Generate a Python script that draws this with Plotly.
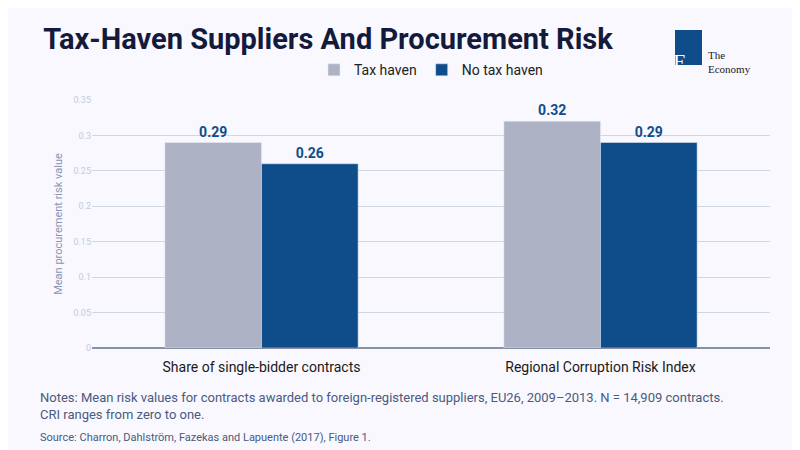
import plotly.graph_objects as go

categories = ["Share of single-bidder contracts", "Regional Corruption Risk Index"]
tax_haven = [0.29, 0.32]
no_tax_haven = [0.26, 0.29]

fig = go.Figure()
fig.add_bar(name="Tax haven", x=categories, y=tax_haven, marker_color="#adb3c5",
            text=[f"{v:.2f}" for v in tax_haven], textposition="outside",
            textfont=dict(color="#0f4c8a", size=14, family="Roboto"), cliponaxis=False)
fig.add_bar(name="No tax haven", x=categories, y=no_tax_haven, marker_color="#0f4c8a",
            text=[f"{v:.2f}" for v in no_tax_haven], textposition="outside",
            textfont=dict(color="#0f4c8a", size=14, family="Roboto"), cliponaxis=False)

bg = "#f8f8fe"
fig.update_layout(
    width=800, height=450, paper_bgcolor=bg, plot_bgcolor=bg,
    margin=dict(l=84, r=38, t=92, b=110),
    barmode="group", bargap=0.43, bargroupgap=0,
    font=dict(family="Roboto"),
    title=dict(text="<b>Tax-Haven Suppliers And Procurement Risk</b>", x=0.044, y=0.955,
               xanchor="left", yanchor="top", font=dict(size=29, color="#141a3c", family="Roboto")),
    legend=dict(orientation="h", x=0.5, xanchor="center", y=1.12, yanchor="middle",
                font=dict(size=14, color="#222"), itemwidth=30, bgcolor="rgba(0,0,0,0)"),
    yaxis=dict(range=[0, 0.35], dtick=0.05, gridcolor="#cfd6e4", tickfont=dict(size=9, color="#c5cbdb"),
               title=dict(text="Mean procurement risk value", font=dict(size=11, color="#8a93b5"), standoff=8),
               zeroline=True, zerolinecolor="#8890a8", tickformat="~g"),
    xaxis=dict(tickfont=dict(size=14, color="#1a1a1a"), showline=True, linecolor="#8890a8"),
)
fig.update_xaxes(ticklabelstandoff=6)
fig.for_each_trace(lambda t: t.update(texttemplate="<b>%{text}</b>"))
fig.add_annotation(xref="paper", yref="paper", x=-0.08, y=-0.16, xanchor="left", yanchor="top",
                   align="left", showarrow=False,
                   text="Notes: Mean risk values for contracts awarded to foreign-registered suppliers, EU26, 2009–2013. N = 14,909 contracts.<br>CRI ranges from zero to one.",
                   font=dict(size=13, color="#4a5a80"))
fig.add_annotation(xref="paper", yref="paper", x=-0.08, y=-0.325, xanchor="left", yanchor="top",
                   showarrow=False, text="Source: Charron, Dahlström, Fazekas and Lapuente (2017), Figure 1.",
                   font=dict(size=11, color="#4a5a80"))
# logo
fig.add_shape(type="rect", xref="paper", yref="paper", x0=(667-84)/678, x1=(694-84)/678,
              y0=(340-57)/248, y1=(340-22)/248, fillcolor="#0f4c8a", line_width=0)
fig.add_annotation(xref="paper", yref="paper", x=(680-84)/678, y=(340-39)/248, text="E",
                   showarrow=False, font=dict(size=22, color="white", family="Liberation Serif"))
fig.add_annotation(xref="paper", yref="paper", x=(698-84)/678, y=(340-39)/248, xanchor="left",
                   text="The<br>Economy", showarrow=False, align="left",
                   font=dict(size=11, color="#222", family="Liberation Serif"))
fig.write_html("out.html")
